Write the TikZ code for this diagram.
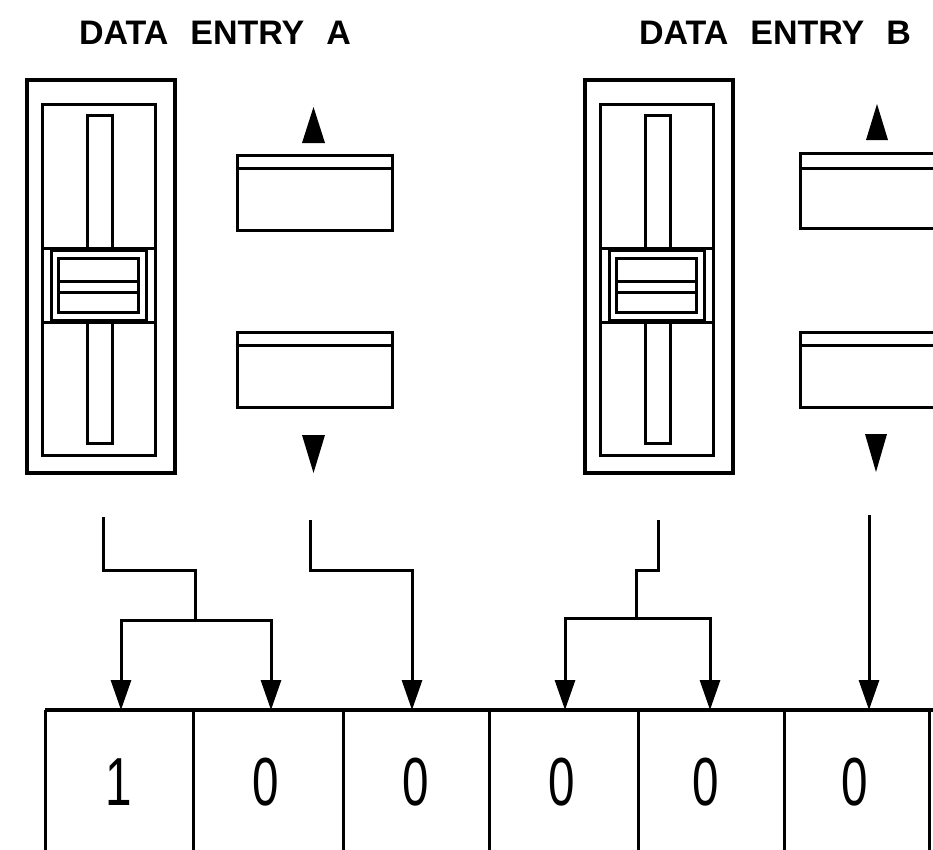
\documentclass[tikz,border=0pt]{standalone}
\usepackage{fontspec}
\setmainfont{Liberation Sans}
\usetikzlibrary{arrows.meta}
\begin{document}
\begin{tikzpicture}[x=1pt,y=-1pt,
  thickline/.style={line width=3pt},
  wire/.style={line width=3pt},
  conn/.style={line width=3pt,-{Triangle[length=30pt,width=20pt]}},
  button/.style={draw,line width=3pt,minimum width=155pt,minimum height=75pt,inner sep=0pt},
  titletext/.style={font=\fontsize{34}{36}\selectfont\bfseries,inner sep=0pt},
  digit/.style={font=\fontsize{68}{70}\selectfont,inner sep=0pt}
]
\clip (0,0) rectangle (933,849);
\fill[white] (0,0) rectangle (933,849);

% titles
\node[titletext] (tA) at (215,33) {DATA\hspace{22pt}ENTRY\hspace{22pt}A};
\node[titletext] (tB) at (775,33) {DATA\hspace{22pt}ENTRY\hspace{22pt}B};

% sliders
\foreach \sx in {0,558}{
\begin{scope}[shift={(\sx,0)}]
  \draw[line width=3.5pt] (27,80) rectangle (175,473);
  \draw[thickline] (42,104) rectangle (155,455);
  \draw[thickline] (87,115) rectangle (112,443);
  \filldraw[thickline,fill=white] (42,248) rectangle (155,322);
  \draw[thickline] (51,250) rectangle (146,320);
  \draw[thickline] (58,258) rectangle (138,312);
  \draw[thickline] (58,281) -- (138,281) (58,292) -- (138,292);
\end{scope}}

% buttons A
\node[button] (upA) at (314.5,192.5) {};
\draw[thickline] ([yshift=-15pt]upA.north west) -- ([yshift=-15pt]upA.north east);
\node[button] (dnA) at (314.5,370) {};
\draw[thickline] ([yshift=-14pt]dnA.north west) -- ([yshift=-14pt]dnA.north east);
\fill (313.5,107) -- (302,143) -- (325,143) -- cycle;
\fill (313.5,473) -- (302,435) -- (325,435) -- cycle;

% buttons B
\node[button] (upB) at (877.5,191) {};
\draw[thickline] ([yshift=-16pt]upB.north west) -- ([yshift=-16pt]upB.north east);
\node[button] (dnB) at (877.5,370) {};
\draw[thickline] ([yshift=-14pt]dnB.north west) -- ([yshift=-14pt]dnB.north east);
\fill (877,104) -- (866,140) -- (888,140) -- cycle;
\fill (876,472) -- (865,434) -- (887,434) -- cycle;

% register cells
\draw[line width=4pt] (45,710) -- (933,710);
\foreach \cx in {45,193,343,489,638,784,929}{
  \draw[thickline] (\cx,710) -- (\cx,852);
}
\node[digit] (d1) at (119,782) {\scalebox{0.7}[1]{1}};
\node[digit] (d2) at (266,782) {\scalebox{0.7}[1]{0}};
\node[digit] (d3) at (416,782) {\scalebox{0.7}[1]{0}};
\node[digit] (d4) at (562,782) {\scalebox{0.7}[1]{0}};
\node[digit] (d5) at (706,782) {\scalebox{0.7}[1]{0}};
\node[digit] (d6) at (855,782) {\scalebox{0.7}[1]{0}};

% connector coordinates
\coordinate (sA) at (103,517);
\coordinate (bA) at (310,520);
\coordinate (sB) at (658,520);
\coordinate (bB) at (869,515);
\coordinate (kA) at (195,570);
\coordinate (jA) at (195,620);
\coordinate (kB) at (412,570);
\coordinate (mB) at (636,570);
\coordinate (jB) at (636,618);
\coordinate (in1) at (121,710);
\coordinate (in2) at (271,710);
\coordinate (in3) at (412,710);
\coordinate (in4) at (565,710);
\coordinate (in5) at (710,710);
\coordinate (in6) at (869,710);

% connectors
\draw[wire] (sA) |- (kA) -- (jA);
\draw[conn] (jA) -| (in1);
\draw[conn] (jA) -| (in2);
\draw[conn] (bA) |- (kB) -- (in3);
\draw[wire] (sB) |- (mB) -- (jB);
\draw[conn] (jB) -| (in4);
\draw[conn] (jB) -| (in5);
\draw[conn] (bB) -- (in6);
\end{tikzpicture}
\end{document}
